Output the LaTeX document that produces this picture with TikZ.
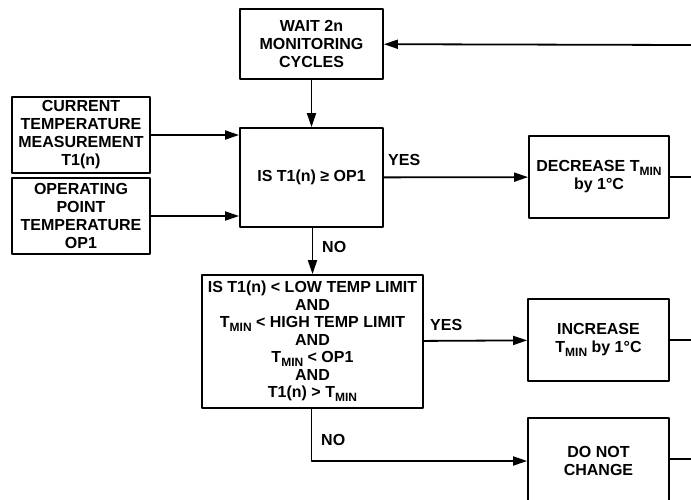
\documentclass[tikz,border=0pt]{standalone}
\usepackage{fontspec}
\setmainfont{Liberation Sans}
\usetikzlibrary{arrows.meta}
\newcommand{\Tmin}{T\raisebox{-0.45ex}{\fontsize{12}{12}\selectfont MIN}}

\begin{document}
\begin{tikzpicture}[x=1pt,y=-1pt,>={Triangle[length=14pt,width=9pt]},line join=round,
	font=\fontsize{16}{18}\selectfont\bfseries,
	box/.style={draw,line width=1.8pt,inner sep=0pt,align=center},
	flow/.style={line width=1.8pt}]
	\clip (0,0) rectangle (691,499);
	% boxes
	\node[box,minimum width=143pt,minimum height=70pt] (wait) at (311.5,44) {WAIT 2n\\MONITORING\\CYCLES};
	\node[box,minimum width=138pt,minimum height=76pt] (current) at (81,135) {CURRENT\\TEMPERATURE\\MEASUREMENT\\T1(n)};
	\node[box,minimum width=138pt,minimum height=76pt] (oppoint) at (81,216) {OPERATING\\POINT\\TEMPERATURE\\OP1};
	\node[box,minimum width=143pt,minimum height=99pt] (isge) at (311.5,177.5) {IS T1(n) ≥ OP1};
	\node[box,minimum width=140pt,minimum height=82pt] (decr) at (599,177) {DECREASE \Tmin\\by 1°C};
	\node[box,minimum width=221pt,minimum height=133pt,font=\fontsize{16}{17.5}\selectfont\bfseries] (islow) at (312.5,341.5)
		{IS T1(n) < LOW TEMP LIMIT\\AND\\\Tmin{} < HIGH TEMP LIMIT\\AND\\\Tmin{} < OP1\\AND\\T1(n) > \Tmin};
	\node[box,minimum width=141pt,minimum height=82pt] (incr) at (598.5,340) {INCREASE\\\Tmin{} by 1°C};
	\node[box,minimum width=141pt,minimum height=86pt] (nochg) at (598.5,461) {DO NOT\\CHANGE};
	% labels
	\node[anchor=west,inner sep=0pt] (yesa) at (388,160) {YES};
	\node[anchor=west,inner sep=0pt] (noa) at (322,247) {NO};
	\node[anchor=west,inner sep=0pt] (yesb) at (430,325) {YES};
	\node[anchor=west,inner sep=0pt] (nob) at (321,440) {NO};
	% loose ends at the right edge
	\coordinate (back) at (691,45);
	\coordinate (outa) at (691,177);
	\coordinate (outb) at (691,340);
	\coordinate (outc) at (691,459);
	% connectors
	\draw[flow,->] (back) -- (wait);
	\draw[flow,->] (wait) -- (isge);
	\draw[flow,->] (current.east) -- (current.east -| isge.west);
	\draw[flow,->] (oppoint.east) -- (oppoint.east -| isge.west);
	\draw[flow,->] (isge) -- (decr);
	\draw[flow] (decr) -- (outa);
	\draw[flow,->] (isge.south -| islow.north) -- (islow.north);
	\draw[flow,->] (islow) -- (incr);
	\draw[flow] (incr) -- (outb);
	\draw[flow,->] (islow.south -| isge.south) |- (nochg.west);
	\draw[flow] (nochg.east |- outc) -- (outc);
\end{tikzpicture}
\end{document}
